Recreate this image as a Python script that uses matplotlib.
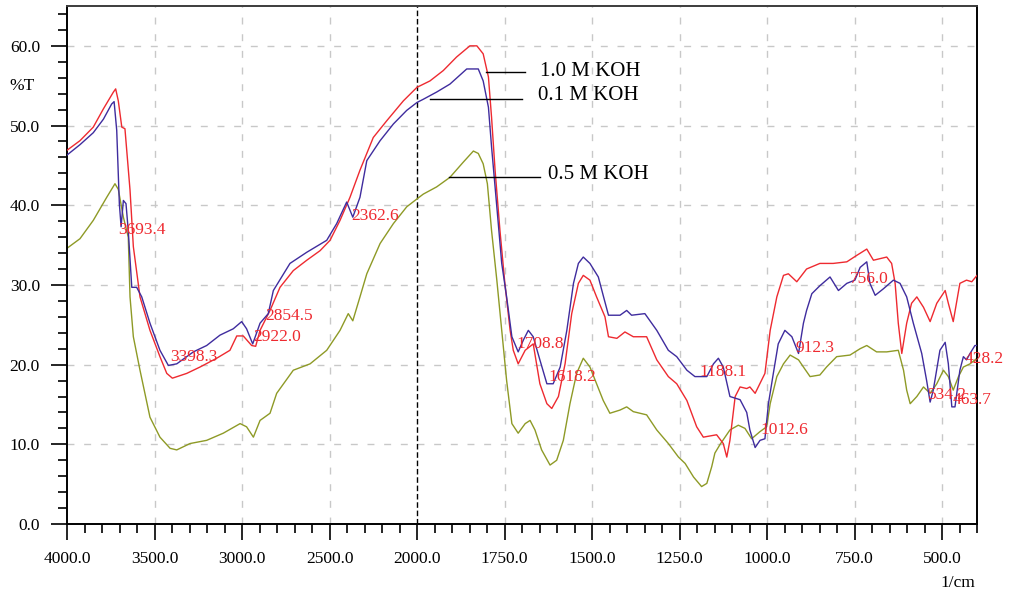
#!/usr/bin/env python

import numpy as np
import matplotlib
matplotlib.use('Agg')
import matplotlib.pyplot as plt
from matplotlib.ticker import FixedLocator, MultipleLocator, FormatStrFormatter

# Wavenumbers (1/cm) and transmittance (%T) for each spectrum
wn_10 = [4000, 3926, 3850, 3792, 3735, 3722, 3707, 3687, 3669, 3640, 3621, 3583,
         3526, 3469, 3430, 3398, 3316, 3240, 3145, 3069, 3030, 2993, 2945, 2922,
         2897, 2840, 2783, 2707, 2630, 2554, 2497, 2440, 2383, 2326, 2250, 2173,
         2078, 2000, 1963, 1925, 1887, 1849, 1829, 1811, 1796, 1787, 1777, 1763,
         1749, 1734, 1725, 1711, 1691, 1668, 1649, 1629, 1615, 1596, 1577, 1558,
         1539, 1525, 1506, 1487, 1463, 1453, 1429, 1406, 1382, 1344, 1315, 1282,
         1258, 1229, 1201, 1182, 1144, 1125, 1115, 1106, 1091, 1077, 1058, 1049,
         1034, 1006, 991, 972, 953, 939, 915, 887, 849, 811, 772, 744, 715, 696,
         658, 644, 634, 625, 615, 601, 587, 572, 553, 534, 515, 491, 482, 468,
         449, 430, 415, 400]
t_10 = [46.9, 48.1, 49.8, 52.1, 54.2, 54.6, 53.1, 49.8, 49.6, 41.9, 34.8, 28.5,
        24.3, 21.0, 18.9, 18.3, 18.9, 19.7, 20.8, 21.8, 23.6, 23.6, 22.4, 22.3,
        24.3, 26.8, 29.7, 31.8, 33.1, 34.3, 35.6, 38.1, 41.0, 44.4, 48.5, 50.6,
        53.1, 54.8, 55.6, 56.9, 58.6, 60.0, 60.0, 59.0, 56.1, 51.0, 44.4, 36.8,
        30.2, 24.3, 21.8, 20.1, 21.8, 22.6, 17.6, 15.1, 14.5, 16.0, 20.1, 26.4,
        30.2, 31.2, 30.6, 28.5, 26.0, 23.5, 23.3, 24.1, 23.5, 23.5, 20.6, 18.5,
        17.6, 15.5, 12.2, 10.9, 11.2, 10.1, 8.4, 10.5, 16.0, 17.2, 17.0, 17.2,
        16.4, 18.9, 24.3, 28.5, 31.2, 31.4, 30.4, 32.0, 32.7, 32.7, 32.9, 33.7, 34.5, 33.1,
        33.5, 32.7, 30.2, 25.2, 21.4, 25.2, 27.7, 28.5, 27.2, 25.4, 27.7, 29.3, 27.7, 25.4,
        30.2, 30.6, 30.4, 31.2]

wn_01 = [4000, 3926, 3850, 3792, 3745, 3731, 3716, 3701, 3691, 3678, 3663, 3650,
         3630, 3602, 3573, 3526, 3469, 3421, 3373, 3278, 3202, 3126, 3050, 3002,
         2974, 2939, 2897, 2850, 2821, 2726, 2630, 2516, 2459, 2402, 2367, 2326,
         2287, 2211, 2135, 2059, 2000, 1982, 1944, 1906, 1858, 1825, 1811, 1796,
         1787, 1772, 1758, 1744, 1729, 1711, 1696, 1682, 1668, 1649, 1629, 1611,
         1591, 1572, 1553, 1539, 1525, 1506, 1482, 1467, 1453, 1420, 1401, 1387,
         1349, 1315, 1282, 1258, 1229, 1206, 1172, 1153, 1139, 1125, 1106, 1077,
         1058, 1049, 1034, 1020, 1006, 996, 982, 968, 949, 929, 910, 896, 887,
         872, 849, 820, 796, 772, 749, 734, 715, 706, 691, 668, 639, 620, 601,
         582, 558, 544, 534, 525, 506, 491, 482, 472, 463, 449, 439, 430, 420,
         406, 400]
t_01 = [46.3, 47.6, 49.1, 50.8, 52.7, 53.0, 49.4, 40.2, 37.3, 40.6, 40.2, 36.8,
        29.7, 29.7, 28.5, 25.2, 21.8, 19.9, 20.1, 21.6, 22.4, 23.7, 24.5, 25.4,
        24.5, 22.6, 25.2, 26.4, 29.3, 32.7, 34.1, 35.6, 37.7, 40.4, 38.5, 41.0,
        45.6, 48.1, 50.2, 51.9, 52.9, 53.3, 54.2, 55.2, 57.1, 57.1, 55.6, 52.3,
        47.3, 39.8, 32.7, 28.5, 23.5, 21.6, 23.1, 24.3, 23.5, 20.6, 17.6, 17.6,
        19.7, 24.3, 30.2, 32.7, 33.5, 32.7, 31.0, 28.5, 26.2, 26.2, 26.8, 26.2,
        26.4, 24.3, 21.8, 21.0, 19.3, 18.5, 18.5, 20.1, 20.8, 19.7, 16.0, 15.6,
        14.0, 11.8, 9.6, 10.5, 10.7, 15.1, 18.9, 22.6, 24.3, 23.5, 21.4, 25.2, 26.8,
        28.9, 29.9, 31.0, 29.3, 30.2, 30.6, 32.2, 32.9, 30.2, 28.7, 29.5, 30.6, 30.2, 28.5,
        25.2, 21.4, 18.0, 15.3, 16.8, 21.8, 22.8, 20.1, 14.7, 14.7, 19.3, 21.0, 20.6, 21.4,
        22.4, 22.4]

wn_05 = [4000, 3926, 3850, 3773, 3726, 3707, 3678, 3650, 3640, 3621, 3583, 3526,
         3469, 3411, 3373, 3297, 3202, 3107, 3011, 2974, 2935, 2897, 2840, 2802,
         2707, 2611, 2516, 2440, 2393, 2367, 2326, 2287, 2211, 2135, 2059, 2000,
         1982, 1944, 1906, 1868, 1839, 1825, 1811, 1799, 1787, 1772, 1758, 1744,
         1729, 1711, 1691, 1677, 1663, 1644, 1620, 1601, 1582, 1563, 1544, 1525,
         1506, 1487, 1468, 1449, 1420, 1401, 1382, 1344, 1315, 1282, 1253, 1234,
         1210, 1187, 1172, 1158, 1149, 1134, 1106, 1082, 1063, 1044, 1020, 1001,
         991, 972, 953, 934, 910, 896, 877, 849, 830, 801, 763, 734, 715, 687,
         658, 625, 610, 601, 591, 572, 553, 534, 515, 496, 482, 468, 453, 439,
         420, 400]
t_05 = [34.6, 35.8, 38.1, 41.0, 42.7, 42.0, 38.5, 36.0, 28.5, 23.5, 19.3, 13.4,
        10.9, 9.5, 9.3, 10.1, 10.5, 11.4, 12.6, 12.2, 10.9, 13.0, 13.9, 16.4,
        19.3, 20.1, 21.8, 24.3, 26.4, 25.5, 28.5, 31.4, 35.2, 37.7, 39.8, 40.8,
        41.4, 42.3, 43.5, 45.4, 46.8, 46.5, 45.2, 42.7, 36.8, 30.6, 24.3, 18.0,
        12.6, 11.4, 12.6, 13.0, 11.8, 9.3, 7.4, 8.0, 10.5, 15.1, 18.9, 20.8,
        19.7, 17.6, 15.5, 13.9, 14.3, 14.7, 14.1, 13.7, 11.8, 10.1, 8.4, 7.6,
        5.9, 4.7, 5.1, 7.2, 8.9, 10.0, 11.8, 12.4, 12.0, 10.7, 11.6, 12.2,
        15.1, 18.5, 20.1, 21.2, 20.6, 19.7, 18.5, 18.7, 19.7, 21.0, 21.2, 22.0, 22.4, 21.6,
        21.6, 21.8, 19.3, 16.8, 15.1, 16.0, 17.2, 16.4, 17.6, 19.3, 18.5, 16.8, 18.5, 19.7,
        20.1, 20.8]

# Picked peaks and the %T height where each label sits
peak_wn = [3693.4, 3398.3, 2922.0, 2854.5, 2362.6, 1708.8, 1618.2, 1188.1,
           1012.6, 912.3, 756.0, 534.2, 463.7, 428.2]
peak_t = [37.5, 21.6, 24.1, 26.8, 39.3, 23.3, 19.1, 19.7,
          12.4, 22.8, 31.4, 16.8, 16.2, 21.4]

x_major = [4000, 3500, 3000, 2500, 2000, 1750, 1500, 1250, 1000, 750, 500]

red = '#ee2a30'
blue = '#3f2c9e'
olive = '#8e9a26'
grid_color = '#c8c8c8'


def forward(w):
    # below 2000 1/cm the axis is expanded twice
    w = np.asarray(w, dtype=float)
    return np.where(w >= 2000, w, 2 * w - 2000)


def inverse(u):
    u = np.asarray(u, dtype=float)
    return np.where(u >= 2000, u, (u + 2000) / 2)


def main():
    plt.rcParams['font.family'] = ['Liberation Serif', 'DejaVu Serif']

    fig = plt.figure(figsize=(10.17, 5.94), dpi=100)
    ax = fig.add_axes([0.0659, 0.1178, 0.8948, 0.8721])
    ax.set_xscale('function', functions=(forward, inverse))
    ax.set_xlim(4000, 400)
    ax.set_ylim(0, 65)

    # Dashed grid, with a black marker where the scale changes
    for w in x_major:
        if w in (4000, 2000):
            continue
        ax.axvline(w, color=grid_color, lw=1.0, ls=(0, (5, 7)), zorder=0)
    for t in range(10, 61, 10):
        ax.axhline(t, color=grid_color, lw=1.0, ls=(0, (5, 7)), zorder=0)
    ax.axvline(2000, color='k', lw=1.0, ls=(0, (4, 2)), zorder=1)

    # Spectra
    ax.plot(wn_05, t_05, color=olive, lw=1.0, zorder=2)
    ax.plot(wn_10, t_10, color=red, lw=1.0, zorder=3)
    ax.plot(wn_01, t_01, color=blue, lw=1.0, zorder=4)

    # Peak labels
    for w, t in zip(peak_wn, peak_t):
        ax.annotate('%.1f' % w, (w, t), xytext=(-1.5, 2), textcoords='offset points',
                    ha='left', va='top', color=red, fontsize=12.5, zorder=5,
                    annotation_clip=False)

    # Sample labels with leader lines
    ax.plot([1803, 1691], [56.7, 56.7], 'k-', lw=1.0, zorder=6)
    ax.text(1649, 56.8, '1.0 M KOH', fontsize=15, va='center', ha='left')
    ax.plot([1963, 1701], [53.3, 53.3], 'k-', lw=1.0, zorder=6)
    ax.text(1653, 53.8, '0.1 M KOH', fontsize=15, va='center', ha='left')
    ax.plot([1908, 1649], [43.6, 43.6], 'k-', lw=1.0, zorder=6)
    ax.text(1625, 43.9, '0.5 M KOH', fontsize=15, va='center', ha='left')

    # Ticks
    x_minor = [w for w in list(range(3900, 2000, -100)) + list(range(1950, 399, -50))
               if w not in x_major]
    ax.xaxis.set_major_locator(FixedLocator(x_major))
    ax.xaxis.set_minor_locator(FixedLocator(x_minor))
    ax.xaxis.set_major_formatter(FormatStrFormatter('%.1f'))
    ax.yaxis.set_major_locator(MultipleLocator(10))
    ax.yaxis.set_minor_locator(MultipleLocator(2))
    ax.yaxis.set_major_formatter(FormatStrFormatter('%.1f'))
    ax.tick_params(which='major', direction='out', length=11.5, width=1.2,
                   labelsize=12.5, pad=8, top=False, right=False)
    ax.tick_params(which='minor', direction='out', length=6.5, width=1.2,
                   top=False, right=False)

    for side in ['left', 'bottom', 'right']:
        ax.spines[side].set_linewidth(1.4)
        ax.spines[side].set_color('k')
    ax.spines['top'].set_linewidth(1.4)
    ax.spines['top'].set_color('#3c3c3c')

    # Axis labels in the instrument style
    ax.text(-0.049, 55.0, '%T', transform=ax.get_yaxis_transform(),
            ha='center', va='center', fontsize=12.5)
    fig.text(0.9587, 0.0177, '1/cm', ha='right', va='center', fontsize=12.5)

    fig.savefig('out.png', dpi=100)


if __name__ == '__main__':
    main()
